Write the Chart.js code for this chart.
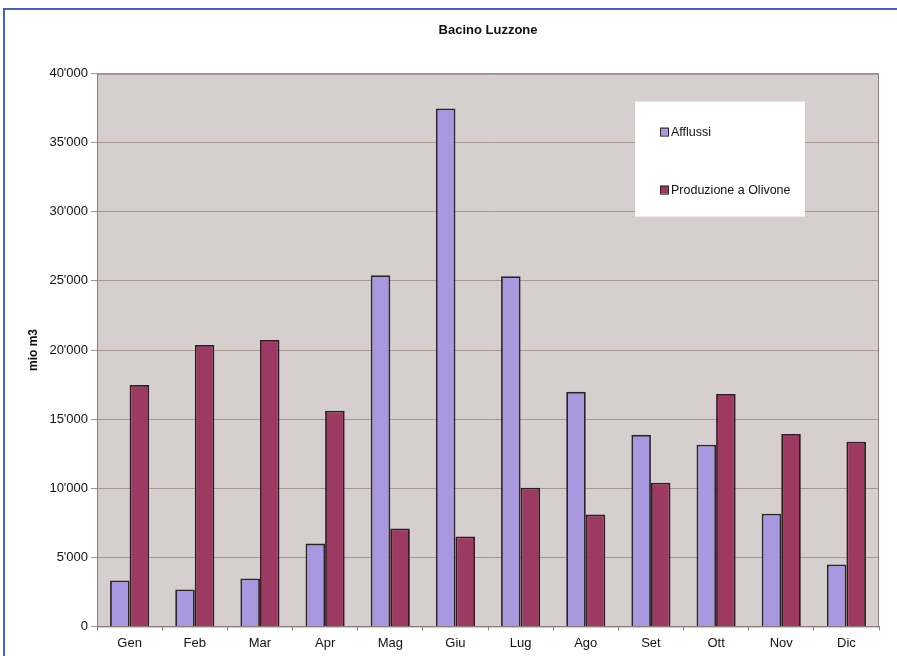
<!DOCTYPE html>
<html>
<head>
<meta charset="utf-8">
<script src="https://cdn.jsdelivr.net/npm/chart.js@4.4.0/dist/chart.umd.min.js"></script>
<style>
  body { margin: 0; background: #ffffff; }
  #frame {
    position: absolute; left: 3px; top: 8px; width: 894px; height: 648px;
    border-left: 2px solid #4a64a8; border-top: 2px solid #4a64a8;
  }
  #wrap { position: absolute; left: 0; top: 0; width: 894px; height: 646px; }
</style>
</head>
<body>
<div id="frame"><div id="wrap"><canvas id="chart"></canvas></div></div>
<script>
// chart data
const months = ['Gen', 'Feb', 'Mar', 'Apr', 'Mag', 'Giu', 'Lug', 'Ago', 'Set', 'Ott', 'Nov', 'Dic'];
const afflussi = [3320, 2670, 3470, 5990, 25410, 37470, 25340, 16970, 13860, 13140, 8160, 4480];
const produzione = [17470, 20360, 20720, 15600, 7080, 6500, 10040, 8090, 10400, 16820, 13930, 13360];
const seriesNames = ['Afflussi', 'Produzione a Olivone'];

// apostrophe as thousands separator, like 40'000
function fmt(v) {
    return String(v).replace(/\B(?=(\d{3})+(?!\d))/g, "'");
}

// grey plot background + frame around the plot area
const plotBg = {
    id: 'plotBg',
    beforeDraw(chart) {
        const a = chart.chartArea, ctx = chart.ctx;
        ctx.save();
        ctx.fillStyle = '#d7cfcf';
        ctx.fillRect(a.left, a.top, a.right - a.left, a.bottom - a.top);
        ctx.restore();
    },
    afterDatasetsDraw(chart) {
        const a = chart.chartArea, ctx = chart.ctx;
        ctx.save();
        ctx.strokeStyle = '#8c7f7c';
        ctx.lineWidth = 1;
        ctx.strokeRect(a.left + 0.5, a.top + 0.5, a.right - a.left - 1, a.bottom - a.top);
        ctx.restore();
    }
};

// legend drawn as a white box inside the plot, top right
const boxLegend = {
    id: 'boxLegend',
    afterDraw(chart) {
        const a = chart.chartArea, ctx = chart.ctx;
        const x = a.right - 244, y = a.top + 28, w = 170, h = 115;
        ctx.save();
        ctx.fillStyle = '#ffffff';
        ctx.fillRect(x, y, w, h);
        ctx.font = '12.5px "Liberation Sans", Arial, sans-serif';
        ctx.textBaseline = 'middle';
        chart.data.datasets.forEach((ds, i) => {
            const iy = y + 30 + i * 58;
            ctx.fillStyle = ds.backgroundColor;
            ctx.fillRect(x + 25, iy - 4, 8, 8);
            ctx.strokeStyle = '#2e2222';
            ctx.lineWidth = 1;
            ctx.strokeRect(x + 25.5, iy - 3.5, 8, 8);
            ctx.fillStyle = '#111111';
            ctx.fillText(ds.label, x + 36, iy + 1);
        });
        ctx.restore();
    }
};

const ctx = document.getElementById('chart').getContext('2d');
const chart = new Chart(ctx, {
    type: 'bar',
    data: {
        labels: months,
        datasets: [{
            label: seriesNames[0],
            data: afflussi,
            backgroundColor: '#a898e0',
            borderColor: '#2e2228',
            borderWidth: 1.8
        }, {
            label: seriesNames[1],
            data: produzione,
            backgroundColor: '#9c3a64',
            borderColor: '#2e1a20',
            borderWidth: 1.8
        }]
    },
    options: {
        responsive: true,
        maintainAspectRatio: false,
        animation: false,
        layout: { padding: { left: 21, right: 20, bottom: 0 } },
        datasets: {
            bar: { categoryPercentage: 0.6, barPercentage: 1.0 }
        },
        plugins: {
            legend: { display: false },
            tooltip: { enabled: false },
            title: {
                display: true,
                fullSize: false,
                text: 'Bacino Luzzone',
                color: '#111111',
                font: { family: '"Liberation Sans", Arial, sans-serif', size: 13, weight: 'bold' },
                padding: { top: 13, bottom: 35 }
            }
        },
        scales: {
            x: {
                grid: {
                    display: true,
                    drawOnChartArea: false,
                    offset: true,
                    tickLength: 4,
                    color: '#8c7f7c'
                },
                border: { color: '#8c7f7c' },
                ticks: {
                    color: '#111111',
                    padding: 5,
                    font: { family: '"Liberation Sans", Arial, sans-serif', size: 13 }
                }
            },
            y: {
                min: 0,
                max: 40000,
                ticks: {
                    stepSize: 5000,
                    color: '#111111',
                    padding: 3,
                    font: { family: '"Liberation Sans", Arial, sans-serif', size: 13 },
                    callback: function(value) { return fmt(value); }
                },
                grid: {
                    color: '#a8958f',
                    tickLength: 6
                },
                border: { color: '#8c7f7c' },
                title: {
                    display: true,
                    text: 'mio m3',
                    color: '#111111',
                    padding: { top: 0, bottom: 6 },
                    font: { family: '"Liberation Sans", Arial, sans-serif', size: 12, weight: 'bold' }
                }
            }
        }
    },
    plugins: [plotBg, boxLegend]
});
</script>
</body>
</html>
